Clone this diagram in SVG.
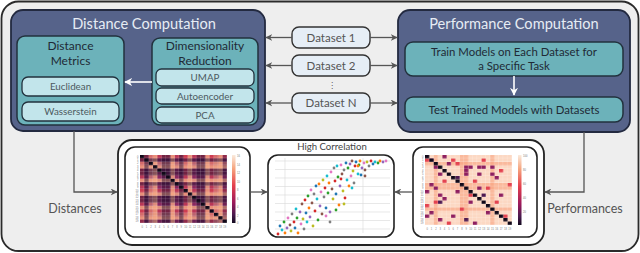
<svg xmlns="http://www.w3.org/2000/svg" width="640" height="253" viewBox="0 0 640 253">
<style>
.big{fill:#56638a;stroke:#232a40;stroke-width:1.8}
.teal{fill:#6cb2ba;stroke:#22323e;stroke-width:1.5}
.pill{fill:#c2e5eb;stroke:#22323e;stroke-width:1.3}
.ds{fill:#e6eef6;stroke:#333;stroke-width:1.4}
.title{font-family:Lato,"Liberation Sans",sans-serif;font-size:14.6px;fill:#e6ecf4;text-anchor:middle}
.hd{font-family:Lato,"Liberation Sans",sans-serif;font-size:12px;fill:#1f2a36;text-anchor:middle}
.it{font-family:Lato,"Liberation Sans",sans-serif;font-size:9.8px;fill:#4d5a60;text-anchor:middle}
.dt{font-family:Lato,"Liberation Sans",sans-serif;font-size:11.5px;fill:#555;text-anchor:middle}
.tb{font-family:Lato,"Liberation Sans",sans-serif;font-size:11.4px;fill:#1f2a36;text-anchor:middle}
.lb{font-family:Lato,"Liberation Sans",sans-serif;font-size:12.5px;fill:#555}
.con{fill:none;stroke:#555;stroke-width:1.3}
.wcon{fill:none;stroke:#fff;stroke-width:1.6}
.panel{fill:#fff;stroke:#222;stroke-width:1.6}
.tk{font-family:"Liberation Sans",sans-serif;font-size:2.6px;fill:#777}
.c0{fill:#d62728}.c1{fill:#1f77b4}.c2{fill:#17becf}.c3{fill:#2ca02c}.c4{fill:#ff7f0e}.c5{fill:#9467bd}.c6{fill:#e377c2}.c7{fill:#8c564b}.c8{fill:#bcbd22}.c9{fill:#7f7f7f}
</style>
<defs>
<marker id="ag" viewBox="0 0 10 10" refX="9" refY="5" markerWidth="7" markerHeight="7" markerUnits="userSpaceOnUse" orient="auto-start-reverse"><path d="M0,0 L10,5 L0,10 L3,5 z" fill="#555"/></marker>
<marker id="aw" viewBox="0 0 10 10" refX="9" refY="5" markerWidth="8" markerHeight="8" markerUnits="userSpaceOnUse" orient="auto"><path d="M0,0 L10,5 L0,10 L3,5 z" fill="#fff"/></marker>
<linearGradient id="magma" x1="0" y1="0" x2="0" y2="1">
<stop offset="0" stop-color="#faebdd"/><stop offset="0.2" stop-color="#f6a47e"/><stop offset="0.45" stop-color="#e43f4c"/><stop offset="0.7" stop-color="#9c1a5c"/><stop offset="0.88" stop-color="#491a4e"/><stop offset="1" stop-color="#120a1e"/>
</linearGradient>
<pattern id="gl" x="140" y="155" width="4.35" height="3.4" patternUnits="userSpaceOnUse"><path d="M4.35,0 V3.4 H0" fill="none" stroke="#fff" stroke-width="0.45" stroke-opacity="0.55"/></pattern>
<pattern id="gr" x="425" y="155" width="4.35" height="3.5" patternUnits="userSpaceOnUse"><path d="M4.35,0 V3.5 H0" fill="none" stroke="#fff" stroke-width="0.45" stroke-opacity="0.7"/></pattern>
</defs>

<rect x="1.5" y="1.5" width="637" height="249.5" rx="17" fill="#eeeeee" stroke="#2b2b2b" stroke-width="1.8"/>

<g id="distance-computation">
<rect class="big" x="11" y="10" width="254" height="121" rx="12"/>
<text class="title" x="144" y="29">Distance Computation</text>
</g>
<g id="distance-metrics">
<rect class="teal" x="17" y="36" width="107" height="89" rx="8"/>
<text class="hd" x="70.5" y="50">Distance</text>
<text class="hd" x="70.5" y="65">Metrics</text>
</g>
<g id="euclidean"><rect class="pill" x="22" y="77" width="97" height="19" rx="6"/><text class="it" x="70.5" y="90">Euclidean</text></g>
<g id="wasserstein"><rect class="pill" x="22" y="102" width="97" height="19" rx="6"/><text class="it" x="70.5" y="115">Wasserstein</text></g>
<g id="dimensionality-reduction">
<rect class="teal" x="152" y="38" width="106" height="87" rx="8"/>
<text class="hd" x="205" y="50">Dimensionality</text>
<text class="hd" x="205" y="65">Reduction</text>
</g>
<g id="umap"><rect class="pill" x="156" y="69" width="98" height="17" rx="5.5"/><text class="it" x="205" y="81">UMAP</text></g>
<g id="autoencoder"><rect class="pill" x="156" y="88" width="98" height="16" rx="5.5"/><text class="it" x="205" y="99.5">Autoencoder</text></g>
<g id="pca"><rect class="pill" x="156" y="107" width="98" height="16" rx="5.5"/><text class="it" x="205" y="118.5">PCA</text></g>

<g id="dataset-1"><rect class="ds" x="292" y="27" width="78" height="21" rx="7"/><text class="dt" x="331" y="41.5">Dataset 1</text></g>
<g id="dataset-2"><rect class="ds" x="292" y="55" width="78" height="21" rx="7"/><text class="dt" x="331" y="69.5">Dataset 2</text></g>
<text x="332" y="88" font-family="DejaVu Sans,sans-serif" font-size="8" fill="#555" text-anchor="middle">⋮</text>
<g id="dataset-n"><rect class="ds" x="292" y="93" width="78" height="20" rx="7"/><text class="dt" x="331" y="107">Dataset N</text></g>

<g id="performance-computation">
<rect class="big" x="398" y="10" width="232" height="122" rx="12"/>
<text class="title" x="514" y="29">Performance Computation</text>
</g>
<g id="train-models"><rect class="teal" x="405" y="42" width="218" height="34" rx="8"/>
<text class="tb" x="514" y="56">Train Models on Each Dataset for</text>
<text class="tb" x="514" y="70">a Specific Task</text></g>
<g id="test-models"><rect class="teal" x="405" y="97" width="218" height="25" rx="8"/>
<text class="tb" x="514" y="113.5">Test Trained Models with Datasets</text></g>

<g id="results">
<rect x="118" y="140" width="426" height="105" rx="14" fill="#fff" stroke="#222" stroke-width="1.8"/>
</g>

<g id="distance-heatmap">
<rect class="panel" x="125" y="147" width="125" height="90" rx="10"/>
<rect x="140" y="155" width="87" height="68" fill="#8a2860"/>
<g fill="#e0434f" fill-opacity="0.55">
<rect x="140" y="155" width="4.35" height="68"/><rect x="183.5" y="155" width="4.35" height="68"/><rect x="209.6" y="155" width="4.35" height="68"/>
<rect x="140" y="155" width="87" height="3.4"/><rect x="140" y="189" width="87" height="3.4"/><rect x="140" y="209.4" width="87" height="3.4"/>
</g>
<g fill="#f9ad86" fill-opacity="0.75">
<rect x="153.05" y="155" width="4.35" height="68"/><rect x="170.45" y="155" width="4.35" height="68"/><rect x="187.85" y="155" width="4.35" height="68"/><rect x="205.25" y="155" width="4.35" height="68"/><rect x="218.3" y="155" width="4.35" height="68"/><rect x="148.7" y="155" width="4.35" height="68" fill-opacity="0.45"/><rect x="213.95" y="155" width="4.35" height="68" fill-opacity="0.45"/>
<rect x="140" y="165.2" width="87" height="3.4"/><rect x="140" y="178.8" width="87" height="3.4"/><rect x="140" y="192.4" width="87" height="3.4"/><rect x="140" y="206" width="87" height="3.4"/><rect x="140" y="216.2" width="87" height="3.4"/><rect x="140" y="161.8" width="87" height="3.4" fill-opacity="0.45"/><rect x="140" y="212.8" width="87" height="3.4" fill-opacity="0.45"/>
</g>
<g fill="#1c0a2c" fill-opacity="0.45">
<rect x="144.35" y="155" width="4.35" height="68"/><rect x="161.75" y="155" width="8.7" height="68"/><rect x="179.15" y="155" width="4.35" height="68"/><rect x="196.55" y="155" width="8.7" height="68"/><rect x="222.65" y="155" width="4.35" height="68" fill-opacity="0.25"/>
<rect x="140" y="158.4" width="87" height="3.4"/><rect x="140" y="168.6" width="87" height="6.8"/><rect x="140" y="182.2" width="87" height="3.4"/><rect x="140" y="195.8" width="87" height="6.8"/><rect x="140" y="219.6" width="87" height="3.4" fill-opacity="0.25"/>
</g>
<g fill="#110818">
<rect x="140" y="155" width="4.35" height="3.4"/><rect x="144.35" y="158.4" width="4.35" height="3.4"/><rect x="148.7" y="161.8" width="4.35" height="3.4"/><rect x="153.05" y="165.2" width="4.35" height="3.4"/><rect x="157.4" y="168.6" width="4.35" height="3.4"/><rect x="161.75" y="172" width="4.35" height="3.4"/><rect x="166.1" y="175.4" width="4.35" height="3.4"/><rect x="170.45" y="178.8" width="4.35" height="3.4"/><rect x="174.8" y="182.2" width="4.35" height="3.4"/><rect x="179.15" y="185.6" width="4.35" height="3.4"/><rect x="183.5" y="189" width="4.35" height="3.4"/><rect x="187.85" y="192.4" width="4.35" height="3.4"/><rect x="192.2" y="195.8" width="4.35" height="3.4"/><rect x="196.55" y="199.2" width="4.35" height="3.4"/><rect x="200.9" y="202.6" width="4.35" height="3.4"/><rect x="205.25" y="206" width="4.35" height="3.4"/><rect x="209.6" y="209.4" width="4.35" height="3.4"/><rect x="213.95" y="212.8" width="4.35" height="3.4"/><rect x="218.3" y="216.2" width="4.35" height="3.4"/><rect x="222.65" y="219.6" width="4.35" height="3.4"/>
</g>
<rect x="140" y="155" width="87" height="68" fill="url(#gl)"/>
<rect x="232" y="155" width="3.5" height="68" fill="url(#magma)"/>
<g class="tk" text-anchor="end">
<text x="138.5" y="157.5">0</text><text x="138.5" y="160.9">1</text><text x="138.5" y="164.3">2</text><text x="138.5" y="167.7">3</text><text x="138.5" y="171.1">4</text><text x="138.5" y="174.5">5</text><text x="138.5" y="177.9">6</text><text x="138.5" y="181.3">7</text><text x="138.5" y="184.7">8</text><text x="138.5" y="188.1">9</text><text x="138.5" y="191.5">10</text><text x="138.5" y="194.9">11</text><text x="138.5" y="198.3">12</text><text x="138.5" y="201.7">13</text><text x="138.5" y="205.1">14</text><text x="138.5" y="208.5">15</text><text x="138.5" y="211.9">16</text><text x="138.5" y="215.3">17</text><text x="138.5" y="218.7">18</text><text x="138.5" y="222.1">19</text>
</g>
<g class="tk" text-anchor="middle">
<text x="142.2" y="227.5">0</text><text x="146.5" y="227.5">1</text><text x="150.9" y="227.5">2</text><text x="155.2" y="227.5">3</text><text x="159.6" y="227.5">4</text><text x="163.9" y="227.5">5</text><text x="168.3" y="227.5">6</text><text x="172.6" y="227.5">7</text><text x="177" y="227.5">8</text><text x="181.3" y="227.5">9</text><text x="185.7" y="227.5">10</text><text x="190" y="227.5">11</text><text x="194.4" y="227.5">12</text><text x="198.7" y="227.5">13</text><text x="203.1" y="227.5">14</text><text x="207.4" y="227.5">15</text><text x="211.8" y="227.5">16</text><text x="216.1" y="227.5">17</text><text x="220.5" y="227.5">18</text><text x="224.8" y="227.5">19</text>
</g>
<g class="tk">
<text x="237" y="157">16</text><text x="237" y="165.5">14</text><text x="237" y="174">12</text><text x="237" y="182.5">10</text><text x="237" y="191">8</text><text x="237" y="199.5">6</text><text x="237" y="208">4</text><text x="237" y="216.5">2</text><text x="237" y="224">0</text>
</g>
</g>

<g id="correlation-plot">
<rect class="panel" x="268" y="155" width="126" height="82" rx="10"/>
<text x="332" y="150" font-family="Lato,'Liberation Sans',sans-serif" font-size="9.6" fill="#444" text-anchor="middle">High Correlation</text>
<g stroke="#d8d8d8" stroke-width="0.6">
<path d="M275,161 H390 M275,169.5 H390 M275,178 H390 M275,186.5 H390 M275,195 H390 M275,203.5 H390 M275,212 H390 M275,220.5 H390 M275,229 H390 M285,158 V233 M363,158 V233"/>
</g>
<g>
<circle class="c0" cx="278" cy="234" r="1.4"/><circle class="c1" cx="280" cy="226" r="1.4"/><circle class="c2" cx="282" cy="230" r="1.4"/><circle class="c3" cx="284" cy="222" r="1.4"/><circle class="c4" cx="285" cy="233" r="1.4"/><circle class="c5" cx="287" cy="228" r="1.4"/><circle class="c6" cx="288" cy="218" r="1.4"/><circle class="c7" cx="290" cy="225" r="1.4"/><circle class="c8" cx="291" cy="231" r="1.4"/><circle class="c9" cx="292" cy="214" r="1.4"/>
<circle class="c0" cx="294" cy="222" r="1.4"/><circle class="c1" cx="295" cy="228" r="1.4"/><circle class="c2" cx="296" cy="209" r="1.4"/><circle class="c3" cx="297" cy="218" r="1.4"/><circle class="c4" cx="298" cy="233" r="1.4"/><circle class="c5" cx="300" cy="212" r="1.4"/><circle class="c6" cx="301" cy="224" r="1.4"/><circle class="c7" cx="302" cy="204" r="1.4"/><circle class="c8" cx="303" cy="219" r="1.4"/><circle class="c9" cx="304" cy="229" r="1.4"/>
<circle class="c0" cx="305" cy="200" r="1.4"/><circle class="c1" cx="306" cy="213" r="1.4"/><circle class="c2" cx="307" cy="222" r="1.4"/><circle class="c3" cx="308" cy="196" r="1.4"/><circle class="c4" cx="309" cy="208" r="1.4"/><circle class="c5" cx="310" cy="217" r="1.4"/><circle class="c6" cx="311" cy="190" r="1.4"/><circle class="c7" cx="312" cy="203" r="1.4"/><circle class="c8" cx="313" cy="226" r="1.4"/><circle class="c9" cx="314" cy="194" r="1.4"/>
<circle class="c0" cx="315" cy="211" r="1.4"/><circle class="c1" cx="316" cy="186" r="1.4"/><circle class="c2" cx="317" cy="199" r="1.4"/><circle class="c3" cx="318" cy="220" r="1.4"/><circle class="c4" cx="319" cy="184" r="1.4"/><circle class="c5" cx="320" cy="206" r="1.4"/><circle class="c6" cx="321" cy="192" r="1.4"/><circle class="c7" cx="322" cy="214" r="1.4"/><circle class="c8" cx="323" cy="180" r="1.4"/><circle class="c9" cx="324" cy="197" r="1.4"/>
<circle class="c0" cx="325" cy="188" r="1.4"/><circle class="c1" cx="326" cy="208" r="1.4"/><circle class="c2" cx="327" cy="176" r="1.4"/><circle class="c3" cx="328" cy="193" r="1.4"/><circle class="c4" cx="329" cy="183" r="1.4"/><circle class="c5" cx="330" cy="212" r="1.4"/><circle class="c6" cx="331" cy="172" r="1.4"/><circle class="c7" cx="332" cy="189" r="1.4"/><circle class="c8" cx="333" cy="199" r="1.4"/><circle class="c9" cx="334" cy="168" r="1.4"/>
<circle class="c0" cx="335" cy="181" r="1.4"/><circle class="c1" cx="336" cy="194" r="1.4"/><circle class="c2" cx="337" cy="166" r="1.4"/><circle class="c3" cx="338" cy="177" r="1.4"/><circle class="c4" cx="339" cy="205" r="1.4"/><circle class="c5" cx="340" cy="186" r="1.4"/><circle class="c6" cx="341" cy="165" r="1.4"/><circle class="c7" cx="342" cy="174" r="1.4"/><circle class="c8" cx="343" cy="191" r="1.4"/><circle class="c9" cx="344" cy="170" r="1.4"/>
<circle class="c0" cx="345" cy="198" r="1.4"/><circle class="c1" cx="346" cy="163" r="1.4"/><circle class="c2" cx="347" cy="180" r="1.4"/><circle class="c3" cx="348" cy="168" r="1.4"/><circle class="c4" cx="349" cy="186" r="1.4"/><circle class="c5" cx="350" cy="164" r="1.4"/><circle class="c6" cx="351" cy="176" r="1.4"/><circle class="c7" cx="352" cy="161" r="1.4"/><circle class="c8" cx="353" cy="171" r="1.4"/><circle class="c9" cx="354" cy="183" r="1.4"/>
<circle class="c0" cx="355" cy="166" r="1.4"/><circle class="c1" cx="356" cy="162" r="1.4"/><circle class="c2" cx="358" cy="174" r="1.4"/><circle class="c3" cx="359" cy="165" r="1.4"/><circle class="c4" cx="360" cy="161" r="1.4"/><circle class="c5" cx="362" cy="168" r="1.4"/><circle class="c6" cx="364" cy="163" r="1.4"/><circle class="c7" cx="365" cy="170" r="1.4"/><circle class="c8" cx="367" cy="162" r="1.4"/><circle class="c9" cx="369" cy="166" r="1.4"/>
<circle class="c0" cx="371" cy="161" r="1.4"/><circle class="c1" cx="373" cy="164" r="1.4"/><circle class="c2" cx="375" cy="162" r="1.4"/><circle class="c3" cx="378" cy="163" r="1.4"/><circle class="c4" cx="380" cy="161" r="1.4"/><circle class="c5" cx="383" cy="162" r="1.4"/><circle class="c6" cx="386" cy="161" r="1.4"/><circle class="c7" cx="365" cy="176" r="1.4"/><circle class="c8" cx="344" cy="204" r="1.4"/><circle class="c9" cx="330" cy="222" r="1.4"/>
<circle class="c2" cx="352" cy="188" r="1.4"/><circle class="c3" cx="336" cy="210" r="1.4"/><circle class="c0" cx="341" cy="179" r="1.4"/><circle class="c1" cx="361" cy="175" r="1.4"/><circle class="c6" cx="326" cy="216" r="1.4"/><circle class="c4" cx="358" cy="166" r="1.4"/>
</g>
</g>

<g id="performance-heatmap">
<rect class="panel" x="413" y="147" width="124" height="90" rx="10"/>
<rect x="425" y="155" width="87" height="70" fill="#fcd8c3"/>
<g fill="#f7a07c" fill-opacity="0.55">
<rect x="433.7" y="155" width="4.35" height="70"/><rect x="459.8" y="155" width="8.7" height="70"/><rect x="490.25" y="155" width="4.35" height="70"/>
<rect x="425" y="162" width="87" height="3.5"/><rect x="425" y="183" width="87" height="7"/><rect x="425" y="207.5" width="87" height="3.5"/>
</g>
<g fill="#8e1f5f">
<rect x="429.35" y="158.5" width="4.35" height="3.5"/><rect x="442.4" y="155" width="4.35" height="3.5"/><rect x="446.75" y="162" width="4.35" height="3.5"/><rect x="464.15" y="165.5" width="4.35" height="3.5"/><rect x="468.5" y="165.5" width="4.35" height="3.5"/><rect x="477.2" y="165.5" width="4.35" height="3.5"/><rect x="490.25" y="165.5" width="4.35" height="3.5"/><rect x="438.05" y="172.5" width="4.35" height="3.5"/><rect x="464.15" y="172.5" width="4.35" height="3.5"/><rect x="477.2" y="172.5" width="4.35" height="3.5"/><rect x="494.6" y="176" width="4.35" height="3.5"/><rect x="429.35" y="183" width="4.35" height="3.5"/><rect x="433.7" y="186.5" width="4.35" height="3.5"/><rect x="455.45" y="190" width="4.35" height="3.5"/><rect x="477.2" y="186.5" width="4.35" height="3.5"/><rect x="442.4" y="197" width="4.35" height="3.5"/><rect x="468.5" y="200.5" width="4.35" height="3.5"/><rect x="429.35" y="211" width="4.35" height="3.5"/><rect x="451.1" y="214.5" width="4.35" height="3.5"/><rect x="485.9" y="211" width="4.35" height="3.5"/><rect x="438.05" y="218" width="4.35" height="3.5"/><rect x="472.85" y="221.5" width="4.35" height="3.5"/>
<rect x="433.7" y="165.5" width="4.35" height="3.5"/><rect x="481.55" y="165.5" width="4.35" height="3.5"/><rect x="464.15" y="169" width="4.35" height="3.5"/><rect x="425" y="190" width="4.35" height="3.5"/><rect x="438.05" y="193.5" width="4.35" height="3.5"/><rect x="490.25" y="172.5" width="4.35" height="3.5"/><rect x="498.95" y="193.5" width="4.35" height="3.5"/><rect x="425" y="214.5" width="4.35" height="3.5"/>
</g>
<g fill="#e4434f">
<rect x="425" y="158.5" width="4.35" height="3.5"/><rect x="451.1" y="158.5" width="4.35" height="3.5"/><rect x="481.55" y="158.5" width="4.35" height="3.5"/><rect x="498.95" y="169" width="4.35" height="3.5"/><rect x="442.4" y="179.5" width="4.35" height="3.5"/><rect x="468.5" y="193.5" width="4.35" height="3.5"/><rect x="425" y="204" width="4.35" height="3.5"/><rect x="459.8" y="207.5" width="4.35" height="3.5"/><rect x="494.6" y="200.5" width="4.35" height="3.5"/><rect x="446.75" y="221.5" width="4.35" height="3.5"/><rect x="485.9" y="186.5" width="4.35" height="3.5"/><rect x="503.3" y="214.5" width="4.35" height="3.5"/><rect x="455.45" y="162" width="4.35" height="3.5"/><rect x="472.85" y="179.5" width="4.35" height="3.5"/><rect x="433.7" y="200.5" width="4.35" height="3.5"/><rect x="507.65" y="183" width="4.35" height="3.5"/>
</g>
<g fill="#4e1a50">
<rect x="455.45" y="176" width="4.35" height="3.5"/><rect x="481.55" y="193.5" width="4.35" height="3.5"/><rect x="438.05" y="200.5" width="4.35" height="3.5"/><rect x="464.15" y="218" width="4.35" height="3.5"/>
</g>
<g fill="#110818">
<rect x="425" y="155" width="4.35" height="3.5"/><rect x="429.35" y="158.5" width="4.35" height="3.5"/><rect x="433.7" y="162" width="4.35" height="3.5"/><rect x="438.05" y="165.5" width="4.35" height="3.5"/><rect x="442.4" y="169" width="4.35" height="3.5"/><rect x="446.75" y="172.5" width="4.35" height="3.5"/><rect x="451.1" y="176" width="4.35" height="3.5"/><rect x="455.45" y="179.5" width="4.35" height="3.5"/><rect x="459.8" y="183" width="4.35" height="3.5"/><rect x="464.15" y="186.5" width="4.35" height="3.5"/><rect x="468.5" y="190" width="4.35" height="3.5"/><rect x="472.85" y="193.5" width="4.35" height="3.5"/><rect x="477.2" y="197" width="4.35" height="3.5"/><rect x="481.55" y="200.5" width="4.35" height="3.5"/><rect x="485.9" y="204" width="4.35" height="3.5"/><rect x="490.25" y="207.5" width="4.35" height="3.5"/><rect x="494.6" y="211" width="4.35" height="3.5"/><rect x="498.95" y="214.5" width="4.35" height="3.5"/><rect x="503.3" y="218" width="4.35" height="3.5"/><rect x="507.65" y="221.5" width="4.35" height="3.5"/>
</g>
<rect x="425" y="155" width="87" height="70" fill="url(#gr)"/>
<rect x="518" y="155" width="3.5" height="70" fill="url(#magma)"/>
<g class="tk" text-anchor="end">
<text x="423.5" y="157.6">0</text><text x="423.5" y="161.1">1</text><text x="423.5" y="164.6">2</text><text x="423.5" y="168.1">3</text><text x="423.5" y="171.6">4</text><text x="423.5" y="175.1">5</text><text x="423.5" y="178.6">6</text><text x="423.5" y="182.1">7</text><text x="423.5" y="185.6">8</text><text x="423.5" y="189.1">9</text><text x="423.5" y="192.6">10</text><text x="423.5" y="196.1">11</text><text x="423.5" y="199.6">12</text><text x="423.5" y="203.1">13</text><text x="423.5" y="206.6">14</text><text x="423.5" y="210.1">15</text><text x="423.5" y="213.6">16</text><text x="423.5" y="217.1">17</text><text x="423.5" y="220.6">18</text><text x="423.5" y="224.1">19</text>
</g>
<g class="tk" text-anchor="middle">
<text x="427.2" y="229.5">0</text><text x="431.5" y="229.5">1</text><text x="435.9" y="229.5">2</text><text x="440.2" y="229.5">3</text><text x="444.6" y="229.5">4</text><text x="448.9" y="229.5">5</text><text x="453.3" y="229.5">6</text><text x="457.6" y="229.5">7</text><text x="462" y="229.5">8</text><text x="466.3" y="229.5">9</text><text x="470.7" y="229.5">10</text><text x="475" y="229.5">11</text><text x="479.4" y="229.5">12</text><text x="483.7" y="229.5">13</text><text x="488.1" y="229.5">14</text><text x="492.4" y="229.5">15</text><text x="496.8" y="229.5">16</text><text x="501.1" y="229.5">17</text><text x="505.5" y="229.5">18</text><text x="509.8" y="229.5">19</text>
</g>
<g class="tk">
<text x="523" y="157">100</text><text x="523" y="171">80</text><text x="523" y="185">60</text><text x="523" y="199">40</text><text x="523" y="213">20</text>
</g>
</g>

<g id="connectors">
<path class="wcon" d="M152,82 H125" marker-end="url(#aw)"/>
<path class="wcon" d="M514,76 V95" marker-end="url(#aw)"/>
<path class="con" d="M292,37.5 H266" marker-end="url(#ag)"/>
<path class="con" d="M370,37.5 H397" marker-end="url(#ag)"/>
<path class="con" d="M292,65.5 H266" marker-end="url(#ag)"/>
<path class="con" d="M370,65.5 H397" marker-end="url(#ag)"/>
<path class="con" d="M292,103 H266" marker-end="url(#ag)"/>
<path class="con" d="M370,103 H397" marker-end="url(#ag)"/>
<path class="con" d="M74,131 V192 H117" marker-end="url(#ag)"/>
<path class="con" d="M584,132 V192 H545" marker-end="url(#ag)"/>
<path class="con" d="M250,192 H267" marker-end="url(#ag)"/>
<path class="con" d="M413,192 H395" marker-end="url(#ag)"/>
</g>
<text class="lb" x="75" y="212.5" text-anchor="middle">Distances</text>
<text class="lb" x="585" y="212.5" text-anchor="middle">Performances</text>
</svg>
